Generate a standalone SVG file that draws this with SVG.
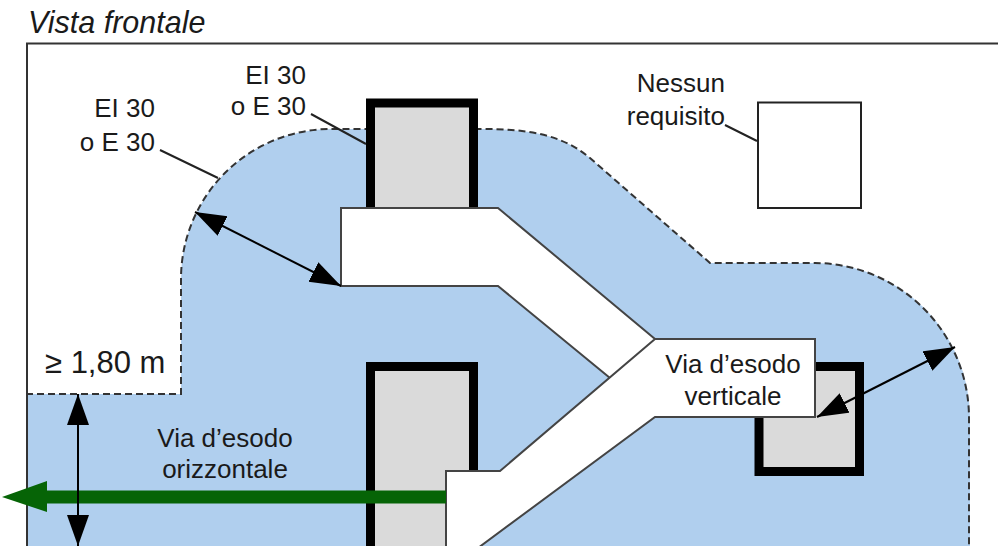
<svg xmlns="http://www.w3.org/2000/svg" width="998" height="546" viewBox="0 0 998 546">
<style>
text{font-family:"Liberation Sans",Arial,sans-serif;fill:#1a1a1a;font-size:26px}
.r{text-anchor:end}.c{text-anchor:middle}
.wall{fill:#dadada;stroke:#000;stroke-width:9}
.lead{stroke:#222;stroke-width:2;fill:none}
.dim{stroke:#000;stroke-width:2;fill:none}
.edge{stroke:#333;stroke-width:2;stroke-dasharray:7 4;fill:none}
</style>
<defs>
<marker id="ah" markerUnits="userSpaceOnUse" markerWidth="32" markerHeight="24" refX="31" refY="11" orient="auto-start-reverse"><path d="M0,0L31,11L0,22z" fill="#000"/></marker>
</defs>
<rect width="998" height="546" fill="#fff"/>
<g id="area"><path d="M26,394H181V279A150,150 0 0 1 331,129H480C525,129 560,133 590,158L710,263H815A155,155 0 0 1 970,417V546H26z" fill="#b0cfee"/>
<path class="edge" d="M26,394H181V279A150,150 0 0 1 331,129H480C525,129 560,133 590,158L710,263H815A155,155 0 0 1 969,417V546"/></g>
<path d="M27,546V43.500H998" fill="none" stroke="#333" stroke-width="2"/>
<g id="wall-top"><rect class="wall" x="370.500" y="103" width="103" height="110"/></g>
<g id="wall-bottom"><rect class="wall" x="370.500" y="366.500" width="103" height="190"/></g>
<g id="wall-right"><rect class="wall" x="759" y="366.500" width="100.500" height="105"/></g>
<g id="wall-none"><rect x="758" y="102.500" width="103" height="105.500" fill="#fff" stroke="#222" stroke-width="2"/></g>
<g id="route">
<path d="M341,208H498L655,339H815V417H655L478,548H446V471H500L610,378L498,286H341z" fill="#fff"/>
<path d="M446,548V471H500L655,339H815V417H655L478,548M610,378L498,286H341V208H498L655,339" fill="none" stroke="#444" stroke-width="2"/>
</g>
<g id="connectors">
<path class="lead" d="M160,150L218,178M311,114L366,144M725,125L757,141"/>
<path class="dim" marker-start="url(#ah)" marker-end="url(#ah)" d="M195,212L341,286"/>
<path class="dim" marker-start="url(#ah)" marker-end="url(#ah)" d="M78,394V546"/>
<path class="dim" marker-start="url(#ah)" marker-end="url(#ah)" d="M955,347L817,417"/>
<path d="M446,497H47" stroke="#066406" stroke-width="13" fill="none"/>
<path d="M2,497L47,481V512z" fill="#066406"/>
<path d="M78,425V518" class="dim"/>
</g>
<g id="labels">
<text x="28" y="33" font-style="italic" style="font-size:30.500px">Vista frontale</text>
<text class="r" x="306" y="84">EI 30</text>
<text class="r" x="306" y="115">o E 30</text>
<text class="r" x="155" y="117">EI 30</text>
<text class="r" x="155" y="151">o E 30</text>
<text class="r" x="725" y="92">Nessun</text>
<text class="r" x="725" y="125">requisito</text>
<text x="45" y="373" style="font-size:31px">≥ 1,80 m</text>
<text class="c" x="225" y="447">Via d’esodo</text>
<text class="c" x="225" y="478">orizzontale</text>
<text class="c" x="733" y="373">Via d’esodo</text>
<text class="c" x="733" y="405">verticale</text>
</g>
</svg>
